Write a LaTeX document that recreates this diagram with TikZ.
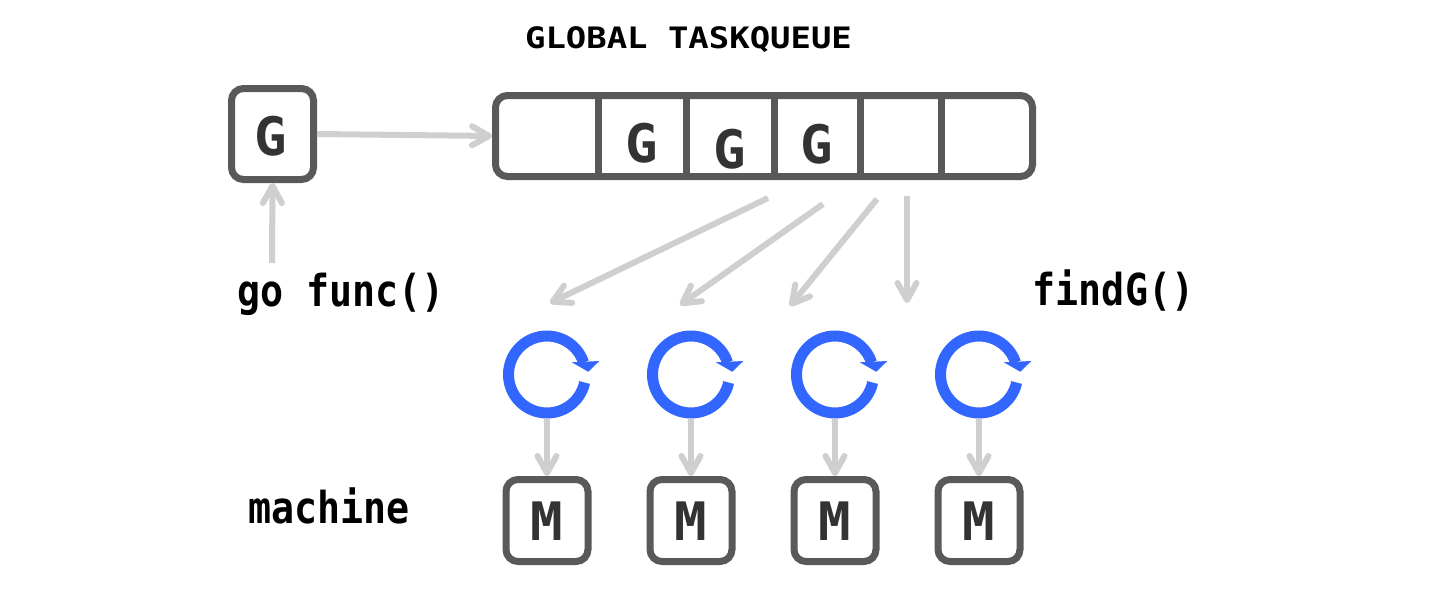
\documentclass[tikz,border=0pt]{standalone}
\usepackage{fontspec}
\usetikzlibrary{arrows.meta,calc}
\newfontfamily\titlefont{DejaVu Sans Mono Bold}[FakeStretch=1.15]
\newfontfamily\lblfont{DejaVu Sans Mono Bold}[FakeStretch=0.87]
\newfontfamily\boxfont{DejaVu Sans Mono Bold}[FakeStretch=1.02]
\definecolor{boxgray}{RGB}{88,89,91}
\definecolor{arrgray}{RGB}{207,207,207}
\definecolor{letgray}{RGB}{51,51,51}
\definecolor{spinblue}{RGB}{51,102,255}
\begin{document}
\begin{tikzpicture}[x=0.5pt,y=-0.5pt,
  box/.style={draw=boxgray, line width=3.5pt, rounded corners=6pt, fill=white, inner sep=0pt},
  divider/.style={draw=boxgray, line width=3.5pt},
  letter/.style={anchor=base, inner sep=0pt, text=letgray, font=\boxfont\fontsize{26.5pt}{26.5pt}\selectfont},
  lbl/.style={anchor=base, inner sep=0pt, text=black, font=\lblfont\fontsize{22pt}{22pt}\selectfont},
  ttl/.style={anchor=base, inner sep=0pt, text=black, font=\titlefont\fontsize{14.75pt}{14.75pt}\selectfont},
  arr/.style={draw=arrgray, line width=3pt, -{Straight Barb[length=8.5pt,width=9.5pt,round]}},
  spin/.style={draw=spinblue, line width=5.5pt},
  spinnode/.style={circle, minimum size=44.5pt, inner sep=0pt, draw=none}
]
\useasboundingbox (0,0) rectangle (1453,590);
\fill[white] (0,0) rectangle (1453,590);

% title
\node[ttl] (title) at (688.5,48) {GLOBAL TASKQUEUE};

% G box and queue
\node[box, minimum width=41pt, minimum height=45.5pt] (g) at (272.5,134) {};
\node[letter] (gl) at (271,155) {G};
\node[box, minimum width=268.5pt, minimum height=40.5pt] (q) at (764,136) {};
\foreach \dx in {598,686,774,860,941}
  \draw[divider] (\dx,95.5) -- (\dx,176.5);
\node[letter] (q2) at (642,162.5) {G};
\node[letter] (q3) at (730,168) {G};
\node[letter] (q4) at (817,163.5) {G};

\draw[arr] (g.east) -- (q.west);

% go func
\coordinate (gf) at (272,263);
\draw[arr] (gf) -- (g.south);
\node[lbl] (gofunc) at (341,306) {go func()};
\node[lbl] (findg) at (1113.5,305) {findG()};
\node[lbl] (machine) at (329,523) {machine};

% diagonal arrows
\coordinate (a1s) at (768,198); \coordinate (a1e) at (550,303);
\coordinate (a2s) at (823,204); \coordinate (a2e) at (680,305);
\coordinate (a3s) at (877,199); \coordinate (a3e) at (790,306);
\coordinate (a4s) at (907,196); \coordinate (a4e) at (907,303);
\draw[arr] (a1s) -- (a1e);
\draw[arr] (a2s) -- (a2e);
\draw[arr] (a3s) -- (a3e);
\draw[arr] (a4s) -- (a4e);

% spinners and machines
\foreach \i/\cx in {1/547,2/691,3/835,4/979}{
  \node[spinnode] (s\i) at (\cx,374.5) {};
  \draw[spin] ($(s\i)+(-12:19.25pt)$) arc[start angle=-12, end angle=-342, radius=19.25pt];
  \fill[spinblue] ($(s\i)+(24.7,-12.2)$) -- ($(s\i)+(52.3,-13.5)$) -- ($(s\i)+(41.3,-2.8)$) -- cycle;
  \node[box, minimum width=41pt, minimum height=41pt] (m\i) at (\cx,520.5) {};
  \node[letter] (ml\i) at (\cx,540) {M};
  \draw[arr] (s\i.south) -- (m\i.north);
}
\end{tikzpicture}
\end{document}
